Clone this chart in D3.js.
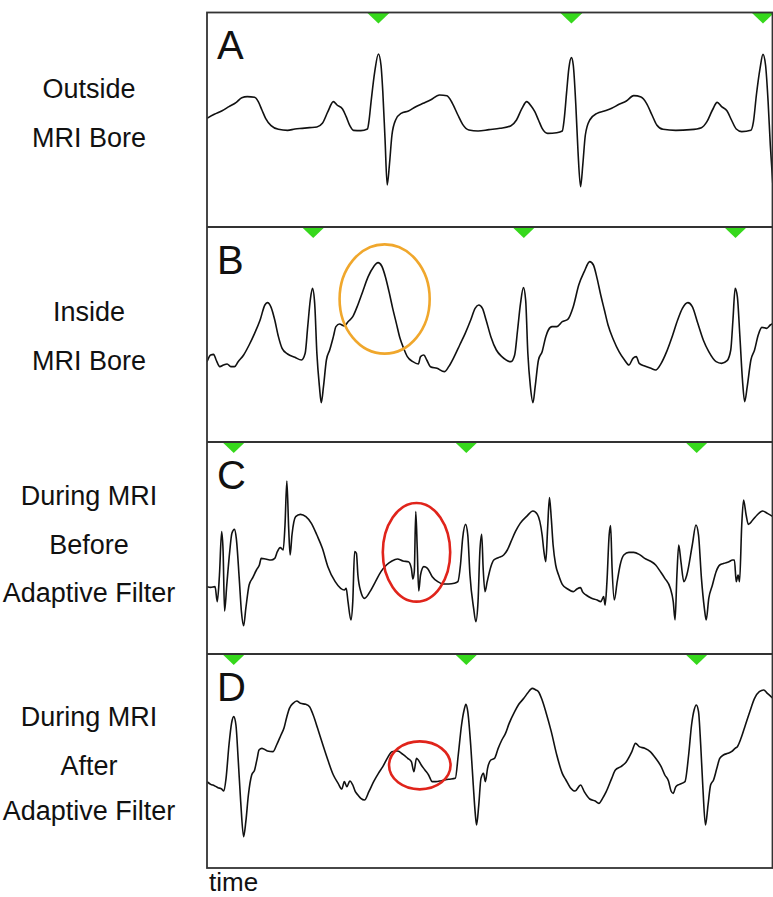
<!DOCTYPE html>
<html><head><meta charset="utf-8">
<script src="https://cdn.jsdelivr.net/npm/d3@7"></script>
<style>
body{margin:0;background:#fff}
svg{display:block}
text{font-family:"Liberation Sans",Arial,Helvetica,sans-serif;fill:#111}
</style></head>
<body><svg id="chart" width="773" height="897"></svg>
<script>
// ---- data (time in samples, amplitude in arbitrary units) ----
const panelLetters = ["A", "B", "C", "D"];
const rowLabels = [
  ["Outside", "MRI Bore"],
  ["Inside", "MRI Bore"],
  ["During MRI", "Before", "Adaptive Filter"],
  ["During MRI", "After", "Adaptive Filter"]
];
const axisLabel = "time";

const traceA = [[20,0],[40,12],[60,22],[80,35],[100,48],[115,62],[130,65],[150,63],[160,50],[170,25],[180,0],[195,-22],[215,-33],[240,-36],[260,-32],[280,-30],[300,-28],[320,-26],[335,-15],[350,20],[365,50],[375,40],[390,28],[400,5],[410,-22],[420,-36],[440,-37],[458,-32],[462,-10],[468,50],[478,140],[488,193],[495,160],[500,80],[506,-60],[512,-200],[518,-140],[525,-50],[535,-5],[550,15],[570,22],[590,35],[610,45],[630,55],[655,70],[675,68],[690,45],[705,10],[718,-18],[735,-35],[760,-38],[790,-34],[820,-30],[850,-22],[865,-5],[880,30],[893,50],[905,37],[915,20],[925,-5],[935,-30],[950,-45],[975,-43],[990,-38],[995,-5],[1002,80],[1008,150],[1015,182],[1020,160],[1027,40],[1033,-100],[1040,-205],[1046,-140],[1053,-50],[1065,-5],[1085,15],[1105,22],[1125,30],[1145,42],[1165,52],[1185,68],[1205,64],[1220,45],[1235,10],[1248,-20],[1265,-33],[1300,-36],[1340,-34],[1370,-28],[1385,-10],[1400,25],[1413,48],[1425,35],[1440,22],[1452,-5],[1465,-32],[1480,-40],[1505,-36],[1512,-10],[1520,70],[1530,150],[1538,192],[1545,160],[1552,50],[1558,-80],[1565,-200]];

const traceB = [[20,-85],[30,-65],[38,-63],[45,-80],[55,-100],[65,-95],[75,-92],[85,-100],[95,-100],[105,-85],[120,-65],[135,-35],[150,0],[165,40],[178,85],[185,92],[195,78],[205,40],[215,-10],[225,-45],[240,-62],[260,-72],[278,-80],[288,-60],[295,20],[302,100],[308,135],[314,90],[320,-60],[327,-160],[332,-208],[338,-160],[346,-80],[355,-50],[365,-10],[372,20],[382,28],[395,22],[405,35],[418,50],[430,80],[445,125],[460,170],[475,200],[487,212],[497,202],[507,170],[517,125],[527,75],[537,30],[547,-15],[557,-45],[567,-70],[582,-85],[597,-92],[603,-70],[612,-65],[620,-80],[630,-100],[648,-105],[668,-115],[680,-100],[695,-70],[710,-35],[725,0],[740,40],[752,75],[762,85],[772,75],[782,40],[795,-10],[810,-50],[825,-70],[850,-85],[860,-65],[868,10],[876,90],[884,137],[890,100],[896,-60],[903,-160],[910,-208],[916,-160],[925,-80],[935,-55],[945,-10],[952,10],[962,20],[975,20],[990,35],[1005,42],[1020,80],[1035,145],[1050,185],[1065,215],[1075,205],[1085,165],[1095,115],[1105,70],[1115,25],[1130,-20],[1145,-55],[1160,-80],[1172,-95],[1183,-75],[1192,-70],[1200,-90],[1215,-98],[1232,-105],[1245,-110],[1260,-90],[1275,-55],[1290,-10],[1305,40],[1318,75],[1333,92],[1345,80],[1360,30],[1375,-20],[1390,-55],[1410,-85],[1425,-90],[1440,-82],[1450,-50],[1456,40],[1462,135],[1468,110],[1475,-10],[1482,-140],[1488,-205],[1495,-160],[1505,-80],[1515,-50],[1525,-5],[1535,18],[1548,15],[1558,25],[1565,30]];

const traceC = [[20,-115],[30,-117],[42,-115],[48,-160],[54,-80],[60,50],[64,-10],[68,-188],[74,-110],[82,-10],[88,45],[95,57],[100,30],[108,-90],[114,-190],[120,-232],[126,-180],[135,-110],[145,-88],[155,-65],[163,-50],[168,-30],[180,-32],[195,-35],[205,-30],[212,-10],[220,2],[228,-5],[233,70],[238,202],[243,60],[247,-20],[252,40],[262,95],[275,102],[290,95],[305,75],[320,40],[335,0],[350,-55],[370,-100],[385,-120],[395,-125],[400,-120],[405,-160],[413,-215],[418,-160],[423,-10],[428,-15],[432,-80],[440,-130],[450,-150],[465,-130],[480,-100],[495,-70],[510,-50],[525,-38],[540,-32],[555,-38],[570,-40],[578,-60],[582,-92],[586,-70],[590,110],[594,0],[598,-128],[603,-80],[612,-55],[622,-60],[635,-85],[650,-100],[665,-107],[680,-107],[695,-105],[705,-100],[712,-50],[718,30],[726,72],[732,40],[738,-80],[748,-180],[754,-220],[760,-160],[765,-10],[770,42],[774,-60],[779,-130],[785,-100],[795,-55],[803,-35],[815,-28],[830,-20],[840,-5],[850,20],[862,50],[875,75],[892,95],[910,112],[922,102],[935,40],[940,-10],[945,-40],[950,60],[955,152],[960,90],[965,10],[972,-50],[980,-80],[990,-108],[1005,-122],[1020,-130],[1030,-122],[1040,-118],[1045,-130],[1055,-140],[1070,-150],[1085,-155],[1095,-160],[1103,-145],[1107,-170],[1112,-100],[1118,40],[1122,68],[1126,-60],[1132,-155],[1140,-100],[1148,-50],[1158,-20],[1172,-12],[1185,-12],[1200,-18],[1215,-30],[1230,-38],[1245,-50],[1258,-70],[1270,-90],[1285,-120],[1293,-160],[1298,-215],[1303,-80],[1308,10],[1314,-40],[1322,-100],[1330,-80],[1345,10],[1355,70],[1362,40],[1370,-90],[1378,-180],[1383,-215],[1390,-150],[1400,-110],[1410,-70],[1420,-50],[1432,-45],[1445,-40],[1455,-35],[1460,-35],[1465,-100],[1470,-80],[1474,-100],[1480,70],[1485,145],[1492,100],[1498,72],[1510,85],[1522,100],[1537,112],[1550,105],[1565,95]];

const traceD = [[20,-70],[30,-78],[40,-82],[50,-88],[60,-92],[66,-98],[72,-60],[80,40],[87,105],[93,125],[99,100],[105,0],[112,-130],[120,-235],[126,-190],[133,-110],[142,-50],[150,-35],[157,0],[162,25],[170,30],[185,22],[200,20],[210,40],[222,70],[230,90],[238,125],[245,150],[255,165],[265,172],[275,165],[290,162],[300,155],[310,130],[322,90],[335,45],[350,-5],[365,-50],[378,-75],[388,-92],[395,-70],[402,-85],[410,-68],[418,-80],[425,-100],[432,-110],[440,-120],[450,-125],[462,-100],[475,-70],[488,-45],[500,-25],[512,0],[525,20],[540,22],[555,12],[568,0],[578,-10],[585,-40],[592,0],[597,-5],[605,-20],[615,-35],[625,-50],[635,-70],[645,-70],[660,-67],[680,-63],[698,-60],[706,10],[715,100],[722,145],[727,162],[732,140],[740,40],[747,-80],[752,-160],[756,-200],[762,-140],[768,-60],[775,-45],[780,-70],[786,-30],[795,-5],[805,0],[815,30],[825,55],[835,75],[845,105],[860,140],[870,160],[885,180],[895,195],[908,210],[918,205],[925,200],[935,175],[945,140],[960,80],[975,10],[990,-45],[1000,-65],[1012,-88],[1025,-98],[1040,-80],[1050,-100],[1065,-122],[1080,-128],[1090,-135],[1100,-120],[1110,-100],[1125,-60],[1135,-35],[1150,-25],[1165,-10],[1180,20],[1190,45],[1200,35],[1215,30],[1230,20],[1245,0],[1260,-25],[1270,-50],[1280,-68],[1287,-98],[1293,-105],[1300,-85],[1310,-78],[1325,-70],[1335,10],[1343,100],[1350,145],[1356,160],[1362,140],[1368,40],[1374,-90],[1381,-200],[1388,-140],[1395,-80],[1403,-65],[1412,-30],[1420,0],[1430,10],[1442,15],[1452,20],[1462,30],[1468,35],[1478,60],[1490,100],[1502,140],[1515,180],[1528,200],[1540,205],[1550,195],[1560,185],[1565,180]];

const traces = [traceA, traceB, traceC, traceD];
// detected R-peak markers (time)
const peakMarksA = [488, 1015, 1538];
const peakMarksB = [310, 885, 1463];
const peakMarksC = [93, 728, 1357];
const peakMarksD = [93, 728, 1357];
const peakMarks = [peakMarksA, peakMarksB, peakMarksC, peakMarksD];
// highlighted regions: [panel, centre time, centre amplitude, time radius, amplitude radius]
const highlights = [[1, 505, 103, 123, 164], [2, 592, -12, 92, 148], [3, 601, -21, 84, 72]];
const highlightColors = ["#f0a72c", "#e0241b", "#e0241b"];
const ampDomains = [[-326, 317.5], [-326, 319], [-317, 319], [-329, 313]];
const timeDomain = [20, 1564];

// ---- layout ----
const svg = d3.select("#chart");
const left = 207, right = 772.5;
const panelEdges = [12.5, 227, 442, 654, 868];
const labelX = 89;
const labelBaselines = [[98, 147], [321, 370], [505, 554, 602], [726, 775, 820]];

const x = d3.scaleLinear().domain(timeDomain).range([left, right]);

panelLetters.forEach((letter, i) => {
  const top = panelEdges[i], bottom = panelEdges[i + 1];
  const y = d3.scaleLinear().domain(ampDomains[i]).range([bottom, top]);
  const g = svg.append("g");
  const clipId = "clip" + i;
  svg.append("clipPath").attr("id", clipId)
    .append("rect").attr("x", left).attr("y", top).attr("width", right - left).attr("height", bottom - top);

  const line = d3.line().x(d => x(d[0])).y(d => y(d[1])).curve(d3.curveMonotoneX);
  g.append("path").datum(traces[i])
    .attr("clip-path", `url(#${clipId})`)
    .attr("d", line)
    .attr("fill", "none").attr("stroke", "#111").attr("stroke-width", 1.6)
    .attr("stroke-linejoin", "round");

  // green triangles
  g.selectAll("path.mk").data(peakMarks[i]).join("path").attr("class", "mk")
    .attr("clip-path", `url(#${clipId})`)
    .attr("d", t => `M${x(t) - 11.5},${top} L${x(t) + 11.5},${top} L${x(t)},${top + 11} Z`)
    .attr("fill", "#36d81c");

  // panel letter
  g.append("text").attr("x", 217).attr("y", top + 46.5)
    .attr("font-size", 40).text(letter);

  // row labels
  rowLabels[i].forEach((s, k) => {
    svg.append("text").attr("x", labelX).attr("y", labelBaselines[i][k])
      .attr("text-anchor", "middle").attr("font-size", 27).text(s);
  });

  // highlights
  highlights.filter(h => h[0] === i).forEach(h => {
    const idx = highlights.indexOf(h);
    g.append("ellipse")
      .attr("cx", x(h[1])).attr("cy", y(h[2]))
      .attr("rx", x(h[1] + h[3]) - x(h[1]))
      .attr("ry", y(h[2] - h[4]) - y(h[2]))
      .attr("fill", "none").attr("stroke", highlightColors[idx]).attr("stroke-width", 2.6);
  });
});

// frame and separators
svg.append("rect").attr("x", left).attr("y", panelEdges[0])
  .attr("width", right - left).attr("height", panelEdges[4] - panelEdges[0])
  .attr("fill", "none").attr("stroke", "#333").attr("stroke-width", 1.8);
svg.selectAll("line.sep").data(panelEdges.slice(1, 4)).join("line").attr("class", "sep")
  .attr("x1", left).attr("x2", right).attr("y1", d => d).attr("y2", d => d)
  .attr("stroke", "#333").attr("stroke-width", 1.8);

svg.append("text").attr("x", 209).attr("y", 891).attr("font-size", 26).text(axisLabel);
</script></body></html>
